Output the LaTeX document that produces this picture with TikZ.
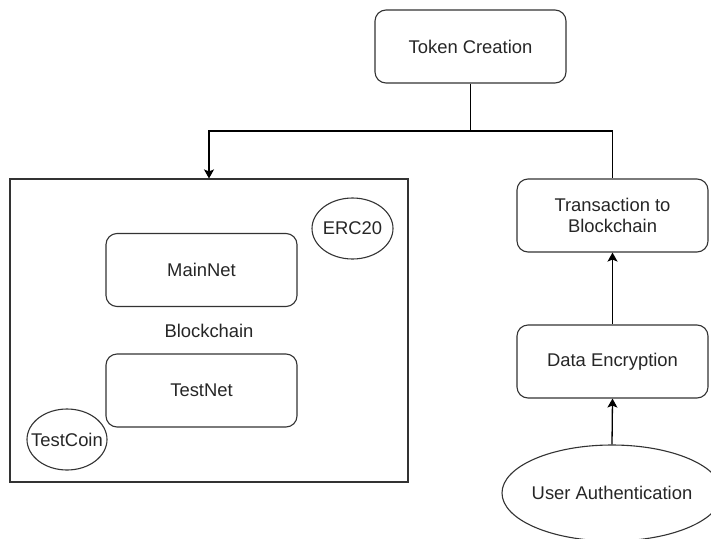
\documentclass[tikz,border=0pt]{standalone}
\usepackage{fontspec}
\setmainfont{Liberation Sans}
\usetikzlibrary{shapes.geometric,arrows.meta}
\begin{document}
\begin{tikzpicture}[x=1pt,y=-1pt,
  every node/.style={font=\fontsize{18.4}{22}\selectfont, text=black!85},
  rbox/.style={draw=black!80, line width=1.1pt, rounded corners=11pt, minimum width=191pt, minimum height=73pt, inner sep=0pt, align=center},
  ell/.style={draw=black!80, ellipse, line width=1.1pt, inner sep=0pt},
  conn/.style={line width=1.3pt},
  arr/.style={conn, -{Stealth[length=9pt,width=10pt,inset=2pt]}}
]
\useasboundingbox (0,0) rectangle (711,538);
\clip (0,0) rectangle (711,538);
\fill[white] (0,0) rectangle (711,538);

\node[rbox] (tc) at (470.5,46.5) {Token Creation};
\node[draw=black!80, line width=1.1pt, minimum width=398pt, minimum height=303pt, inner sep=0pt] (bc) at (209,330.5) {Blockchain};
\node[rbox] (mn) at (201.5,270) {MainNet};
\node[rbox] (tn) at (201.5,390.5) {TestNet};
\node[ell, minimum width=81pt, minimum height=61pt, label=center:{ERC20}] (erc) at (352.5,228.5) {};
\node[ell, minimum width=80pt, minimum height=61pt, label=center:{TestCoin}] (tcoin) at (67,439.5) {};
\node[rbox] (tx) at (612.5,215.5) {Transaction to\\[-1pt]Blockchain};
\node[rbox] (de) at (612.5,361.5) {Data Encryption};
\node[ell, minimum width=220pt, minimum height=96pt, label=center:{User Authentication}] (ua) at (612,493) {};

\coordinate (j) at (tc.south |- 0,131);
\draw[arr] (tc.south) -- (j) -| (bc.north);
\draw[conn] (j) -| (tx.north);
\draw[arr] (de.north) -- (tx.south);
\draw[arr] (ua.north) -- (de.south);
\end{tikzpicture}
\end{document}
